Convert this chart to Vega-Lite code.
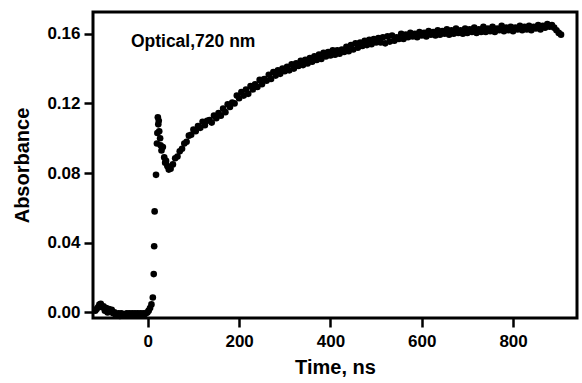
{
  "$schema": "https://vega.github.io/schema/vega-lite/v6.json",
  "width": 484,
  "height": 306,
  "autosize": {"type": "none"},
  "padding": {"left": 93, "top": 12, "right": 5, "bottom": 65},
  "background": "white",
  "config": {
    "font": "Liberation Sans",
    "view": {"stroke": "black", "strokeWidth": 3},
    "axis": {
      "domain": false,
      "grid": false,
      "tickColor": "black",
      "tickWidth": 2.5,
      "tickSize": 9,
      "labelColor": "black",
      "labelFont": "Liberation Sans",
      "labelFontSize": 17,
      "labelFontWeight": "bold",
      "titleColor": "black",
      "titleFont": "Liberation Sans",
      "titleFontSize": 20,
      "titleFontWeight": "bold"
    }
  },
  "layer": [
    {
      "data": {"values": [
        {"t":-115,"v":0.001},{"t":-112,"v":0.002},{"t":-109,"v":0.003},{"t":-106,"v":0.0045},{"t":-103,"v":0.005},{"t":-100,"v":0.003},{"t":-97,"v":0.0035},{"t":-94,"v":0.001},{"t":-91,"v":0.0025},{"t":-88,"v":0.000},{"t":-85,"v":0.002},{"t":-82,"v":0.001},{"t":-79,"v":0.0015},{"t":-76,"v":-0.0005},{"t":-73,"v":0.000},{"t":-70,"v":-0.0015},{"t":-67,"v":-0.001},{"t":-64,"v":-0.0005},{"t":-61,"v":-0.002},{"t":-58,"v":-0.0005},{"t":-55,"v":-0.001},{"t":-52,"v":-0.0015},{"t":-49,"v":-0.001},{"t":-46,"v":-0.0005},{"t":-43,"v":-0.001},{"t":-40,"v":-0.0005},{"t":-37,"v":-0.001},{"t":-34,"v":-0.0005},{"t":-31,"v":-0.001},{"t":-28,"v":-0.0005},{"t":-25,"v":-0.001},{"t":-22,"v":-0.0005},{"t":-19,"v":-0.001},{"t":-16,"v":-0.0005},{"t":-13,"v":-0.001},{"t":-10,"v":-0.0005},{"t":-7,"v":-0.001},{"t":-4,"v":-0.0005},{"t":-1,"v":0.000},{"t":2,"v":0.001},{"t":5,"v":0.0025},{"t":8,"v":0.0046},
        {"t":11,"v":0.0086},{"t":13,"v":0.022},{"t":14,"v":0.038},{"t":15,"v":0.058},{"t":18,"v":0.079},{"t":20,"v":0.097},{"t":21,"v":0.103},{"t":23,"v":0.108},{"t":22,"v":0.112},{"t":24,"v":0.110},{"t":25,"v":0.104},{"t":27,"v":0.100},{"t":28,"v":0.096},{"t":30,"v":0.093},{"t":33,"v":0.095},{"t":36,"v":0.089},{"t":38,"v":0.086},{"t":40,"v":0.087},{"t":43,"v":0.084},{"t":46,"v":0.082},{"t":48,"v":0.083},
        {"t":50,"v":0.0825},{"t":55,"v":0.085},{"t":60,"v":0.0885},{"t":65,"v":0.0895},{"t":70,"v":0.0925},{"t":75,"v":0.094},{"t":80,"v":0.097},{"t":85,"v":0.098},{"t":90,"v":0.1015},{"t":95,"v":0.102},{"t":100,"v":0.105},{"t":105,"v":0.104},{"t":110,"v":0.107},{"t":115,"v":0.106},{"t":120,"v":0.1095},{"t":125,"v":0.1075},{"t":130,"v":0.110},{"t":135,"v":0.1105},{"t":140,"v":0.109},{"t":145,"v":0.113},{"t":150,"v":0.1115},{"t":155,"v":0.1145},{"t":160,"v":0.113},{"t":165,"v":0.117},{"t":170,"v":0.115},{"t":175,"v":0.1195},{"t":180,"v":0.118},{"t":185,"v":0.1205},{"t":190,"v":0.120},{"t":195,"v":0.1245},{"t":200,"v":0.123},{"t":205,"v":0.1265},{"t":210,"v":0.1245},{"t":215,"v":0.128},{"t":220,"v":0.1255},{"t":225,"v":0.130},{"t":230,"v":0.128},{"t":235,"v":0.131},{"t":240,"v":0.1295},{"t":245,"v":0.1335},{"t":250,"v":0.131},{"t":255,"v":0.134},{"t":260,"v":0.133},{"t":265,"v":0.1365},{"t":270,"v":0.134},{"t":275,"v":0.138},{"t":280,"v":0.136},{"t":285,"v":0.139},{"t":290,"v":0.137},{"t":295,"v":0.140},{"t":300,"v":0.1385},{"t":305,"v":0.141},{"t":310,"v":0.139},{"t":315,"v":0.1425},{"t":320,"v":0.140},{"t":325,"v":0.143},{"t":330,"v":0.1415},{"t":335,"v":0.1445},{"t":340,"v":0.142},{"t":345,"v":0.145},{"t":350,"v":0.143},{"t":355,"v":0.146},{"t":360,"v":0.144},{"t":365,"v":0.147},{"t":370,"v":0.145},{"t":375,"v":0.148},{"t":380,"v":0.1455},{"t":385,"v":0.149},{"t":390,"v":0.147},{"t":395,"v":0.1495},{"t":400,"v":0.1475},{"t":405,"v":0.1505},{"t":410,"v":0.148},{"t":415,"v":0.1505},{"t":420,"v":0.1485},{"t":425,"v":0.151},{"t":430,"v":0.1495},{"t":435,"v":0.1525},{"t":440,"v":0.150},{"t":445,"v":0.1535},{"t":450,"v":0.151},{"t":455,"v":0.1545},{"t":460,"v":0.152},{"t":465,"v":0.155},{"t":470,"v":0.153},{"t":475,"v":0.156},{"t":480,"v":0.1535},{"t":485,"v":0.1565},{"t":490,"v":0.154},{"t":495,"v":0.157},{"t":500,"v":0.155},{"t":505,"v":0.1575},{"t":510,"v":0.155},{"t":515,"v":0.158},{"t":520,"v":0.1545},{"t":525,"v":0.1585},{"t":530,"v":0.1555},{"t":535,"v":0.159},{"t":540,"v":0.156},{"t":545,"v":0.158},{"t":550,"v":0.157},{"t":555,"v":0.160},{"t":560,"v":0.157},{"t":565,"v":0.1595},{"t":570,"v":0.158},{"t":575,"v":0.1605},{"t":580,"v":0.1585},{"t":585,"v":0.160},{"t":590,"v":0.158},{"t":595,"v":0.161},{"t":600,"v":0.159},{"t":605,"v":0.1605},{"t":610,"v":0.1585},{"t":615,"v":0.1615},{"t":620,"v":0.1595},{"t":625,"v":0.161},{"t":630,"v":0.159},{"t":635,"v":0.162},{"t":640,"v":0.1595},{"t":645,"v":0.1615},{"t":650,"v":0.160},{"t":655,"v":0.1625},{"t":660,"v":0.1595},{"t":665,"v":0.162},{"t":670,"v":0.160},{"t":675,"v":0.163},{"t":680,"v":0.1605},{"t":685,"v":0.162},{"t":690,"v":0.160},{"t":695,"v":0.163},{"t":700,"v":0.1605},{"t":705,"v":0.1625},{"t":710,"v":0.161},{"t":715,"v":0.1635},{"t":720,"v":0.1605},{"t":725,"v":0.1625},{"t":730,"v":0.161},{"t":735,"v":0.164},{"t":740,"v":0.161},{"t":745,"v":0.163},{"t":750,"v":0.1615},{"t":755,"v":0.164},{"t":760,"v":0.161},{"t":765,"v":0.163},{"t":770,"v":0.162},{"t":775,"v":0.1645},{"t":780,"v":0.1615},{"t":785,"v":0.1635},{"t":790,"v":0.162},{"t":795,"v":0.164},{"t":800,"v":0.1615},{"t":805,"v":0.1635},{"t":810,"v":0.1625},{"t":815,"v":0.1645},{"t":820,"v":0.162},{"t":825,"v":0.164},{"t":830,"v":0.1625},{"t":835,"v":0.1645},{"t":840,"v":0.162},{"t":845,"v":0.164},{"t":850,"v":0.163},{"t":855,"v":0.165},{"t":860,"v":0.1625},{"t":865,"v":0.1645},{"t":870,"v":0.1635},{"t":875,"v":0.1655},{"t":880,"v":0.164},{"t":885,"v":0.165},{"t":890,"v":0.1635},{"t":895,"v":0.162},{"t":900,"v":0.1605},{"t":905,"v":0.1595}
      ]},
      "mark": {"type": "circle", "size": 44, "color": "black", "opacity": 1},
      "encoding": {
        "x": {
          "field": "t", "type": "quantitative",
          "scale": {"domain": [-120, 940], "nice": false, "zero": false},
          "axis": {"values": [0, 200, 400, 600, 800], "title": "Time, ns", "labelPadding": 6, "titlePadding": 8}
        },
        "y": {
          "field": "v", "type": "quantitative",
          "scale": {"domain": [-0.0032, 0.1725], "nice": false, "zero": false},
          "axis": {
            "values": [0, 0.02, 0.04, 0.06, 0.08, 0.1, 0.12, 0.14, 0.16],
            "labelExpr": "round(datum.value*100) % 4 == 0 ? format(datum.value, '.2f') : ''",
            "title": "Absorbance",
            "labelPadding": 4,
            "titlePadding": 14
          }
        }
      }
    },
    {
      "data": {"values": [{"label": "Optical,720 nm", "t": -37, "v": 0.1554}]},
      "mark": {"type": "text", "align": "left", "baseline": "middle", "fontSize": 17.5, "fontWeight": "bold", "font": "Liberation Sans", "color": "black"},
      "encoding": {
        "x": {"field": "t", "type": "quantitative"},
        "y": {"field": "v", "type": "quantitative"},
        "text": {"field": "label"}
      }
    }
  ]
}
